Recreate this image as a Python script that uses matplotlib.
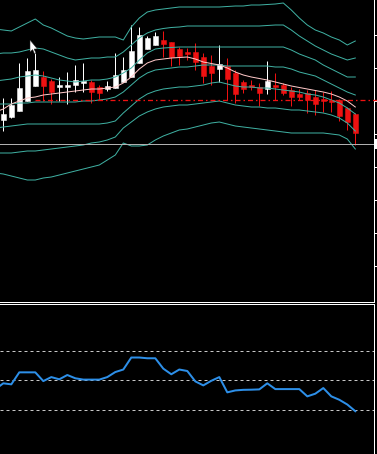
import numpy as np
import matplotlib
matplotlib.use("Agg")
import matplotlib.pyplot as plt
from matplotlib.patches import Polygon, Rectangle
from matplotlib.transforms import Affine2D

W, H, DPI = 377, 454, 100
PX = 72.0 / DPI  # points per pixel
plt.rcParams['lines.scale_dashes'] = False

# ---------------- data (price units) ----------------
opens  = [180,183,189,199,214,223,219,213,213,215, 217,218,213,211,212,218,223,237,251,255,
          260,258,251,248,248,243,234,231,234,227, 218,215,213,211,215,215,210,206,207,203,
          201,200,200,192,186]
highs  = [202,202,237,242,247,229,221,223,228,235, 237,220,215,219,247,243,275,273,264,268,
          269,258,253,252,257,247,245,255,242,230, 220,220,217,239,227,217,213,211,210,210,
          208,209,201,193,187]
lows   = [169,182,189,199,214,199,196,199,196,208, 208,197,201,209,212,218,223,237,251,255,
          243,234,235,240,230,217,215,218,200,197, 207,210,194,206,200,205,194,200,187,185,
          188,188,179,170,155]
closes = [186,195,212,229,230,214,208,215,215,220, 219,208,207,214,225,230,249,265,262,264,
          256,243,244,246.5,238,224,227,236,221,206, 211,213,207,219,213,207,203,203,200,196,
          199,198.5,184,178,167]

# lines (first value belongs to the bar before the first visible candle)
ma_fast = [188, 191,196,199,202,203,205,206,207,208,209, 210,211,211,212,213,217,223,231,237,240,
           241,242,242.5,243,241,238,236.5,235,232,228, 225,223,221.5,220,218,216,214,212.5,211,209.5,
           208,206,203,199,193]
band_u3 = [271, 270,269,273,277,281,275,272,268,264,262, 261,262,263,263,263,260,273,282,288,290,
           291,292,293,293,293,293,293,293,293.5,294, 294,295,295,295.5,296,297,290,282,275,270,
           267,263,260,255,259]
band_u2 = [246, 247,247,248,250,252,251,248,245,242,240, 241,242,242,243,243,248,255,262,267,270,
           271.5,272.5,273,274,274,274,274,274,274,274, 274,274,274,274.5,275,275,270,264,259,254,
           250,246,243,240,242]
band_u1 = [219, 220,221,223,224,225,224,222,220,219,218, 219,220,220,221,223,227,232,240,247,251,
           252,252.5,253,253,253,253,253,253,253,253, 253,253,253,253,253,253,250,246,243,240,
           235,231,227,223,223]
band_mid = [196, 196,196,197,197,198,198,198,198,198,198, 199,199,200,201,203,208,215,222,227,230,
            231,232,233,233,234,235,235,235,234,234, 234,234,234,234,233,233,231,228,226,224,
            220,216,212,208,205]
band_l1 = [172, 173,174,175,176,176,176,176,176,176,176, 176,176,176,177,179,187,194,201,206,209,
           211,212,213,213,214,215,217,218,216,214, 213,213,212,212,211,210,209,208,206,205,
           203,200,197,192,186]
band_l2 = [147, 147,147,148,149,149,150,151,152,153,154, 155,157,158,160,163,172,178,184,188,191,
           193,194,195,195,196,197,198,199,197,195, 194,193,193,192,192,191,190,190,189,188,
           187,185,182,177,169]
band_l3 = [127, 126,124,122,120,120,122,123,125,127,129, 131,133,135,140,145,157,154,154,155,160,
           164,167,170,171,173,175,177,178,176,174, 173,172,171,170,169,168,167,167,167,167,
           167,166,165,161,151]

rsi = [44, 48.0,47.3,55.4,55.4,55.4,49.5,52.2,50.7,53.6,51.4, 50.5,50.5,50.5,52.2,55.6,57.3,65.4,65.4,64.9,64.9,
       57.9,54.1,57.3,56.3,49.3,46.6,49.7,52.2,41.9,43.2, 43.6,43.7,43.9,48.0,44.1,44.1,44.1,44.1,39.2,41.0,
       44.8,39.2,36.9,33.7,29.2]
rsi_levels = [70, 50, 30]

support_level = 156      # grey horizontal line
pivot_level = 200        # red dash-dot line
pivot_start_bar = 4
price_ticks = [265.5, 232.4, 199.3, 166.2, 133.1, 100.0, 67.0, 34.0]

# ---------------- styles ----------------
BG = 'black'
TEAL = '#3fb0a2'
PINK = '#ffc8c8'
RED = '#ee1111'
BULL = '#ffffff'
BLUE = '#2d8fe8'

fig = plt.figure(figsize=(W / DPI, H / DPI), dpi=DPI, facecolor=BG)
ax = fig.add_axes([0, (H - 302) / H, 374 / W, 302 / H], facecolor=BG)
ax2 = fig.add_axes([0, -2 / H, 374 / W, 152 / H], facecolor=BG)

n = len(opens)
x = np.arange(n)
xl = np.arange(-1, n)
xlim = (-3.3 / 8, (374 - 3.3) / 8)

# candles
o = np.array(opens); c = np.array(closes)
hi = np.array(highs); lo = np.array(lows)
bull = c >= o
cols = np.where(bull, BULL, RED)
bottoms = np.minimum(o, c)
heights = np.maximum(np.abs(c - o), 1.0)
ax.vlines(x, lo, hi, colors=cols, linewidth=1.0 * PX, zorder=2)
ax.bar(x, heights, bottom=bottoms, width=0.6, color=cols, edgecolor=cols,
       linewidth=0.5 * PX, zorder=3)

# bands and MA
for band in (band_u3, band_u2, band_u1, band_mid, band_l1, band_l2, band_l3):
    ax.plot(xl, band, color=TEAL, linewidth=1.0 * PX, zorder=4)
ax.plot(xl, ma_fast, color=PINK, linewidth=1.0 * PX, zorder=5)

ax.axhline(support_level, color='#b0b0b0', linewidth=1.0 * PX, zorder=4)
ax.plot([pivot_start_bar, xlim[1] + 0.5], [pivot_level, pivot_level], color=RED,
        linewidth=1.3 * PX, dashes=(5 * PX, 3 * PX, 1.5 * PX, 3 * PX), zorder=6, clip_on=False)

ax.set_xlim(*xlim)
ax.set_ylim(-2, 300)
for s in ('top', 'left'):
    ax.spines[s].set_visible(False)
for s in ('bottom', 'right'):
    ax.spines[s].set_color('white')
    ax.spines[s].set_linewidth(1.0 * PX)
ax.set_xticks([])
ax.yaxis.tick_right()
ax.set_yticks(price_ticks)
ax.tick_params(axis='y', direction='out', length=3 * PX, width=1.0 * PX, colors='white',
               labelright=False, labelleft=False)

# figure-pixel transform (origin top-left) for screen decorations
to_fig = Affine2D().scale(1.0 / W, -1.0 / H).translate(0, 1) + fig.transFigure
# price tag of the grey line at the right edge
fig.patches.append(Rectangle((375, 139), 2, 10, transform=to_fig, facecolor='white',
                             edgecolor='none', zorder=10))
# mouse pointer
cursor = [(30, 40), (30, 52), (32.6, 49.6), (34.6, 54), (36, 53.3), (34.2, 49), (37.5, 49)]
fig.patches.append(Polygon(cursor, closed=True, transform=to_fig, facecolor='white',
                           edgecolor='#202020', linewidth=0.5 * PX, zorder=10))

# RSI panel
for lv in rsi_levels:
    ax2.axhline(lv, color='#c8c8c8', linewidth=1.0 * PX, dashes=(3 * PX, 3 * PX))
ax2.plot(xl, rsi, color=BLUE, linewidth=2.0 * PX, zorder=3)
ax2.set_xlim(*xlim)
ax2.set_ylim(-1.03, 101.5)
for s in ('bottom', 'left'):
    ax2.spines[s].set_visible(False)
for s in ('top', 'right'):
    ax2.spines[s].set_color('white')
    ax2.spines[s].set_linewidth(1.0 * PX)
ax2.set_xticks([]); ax2.set_yticks([])

fig.savefig('out.png', dpi=DPI, facecolor=BG)
